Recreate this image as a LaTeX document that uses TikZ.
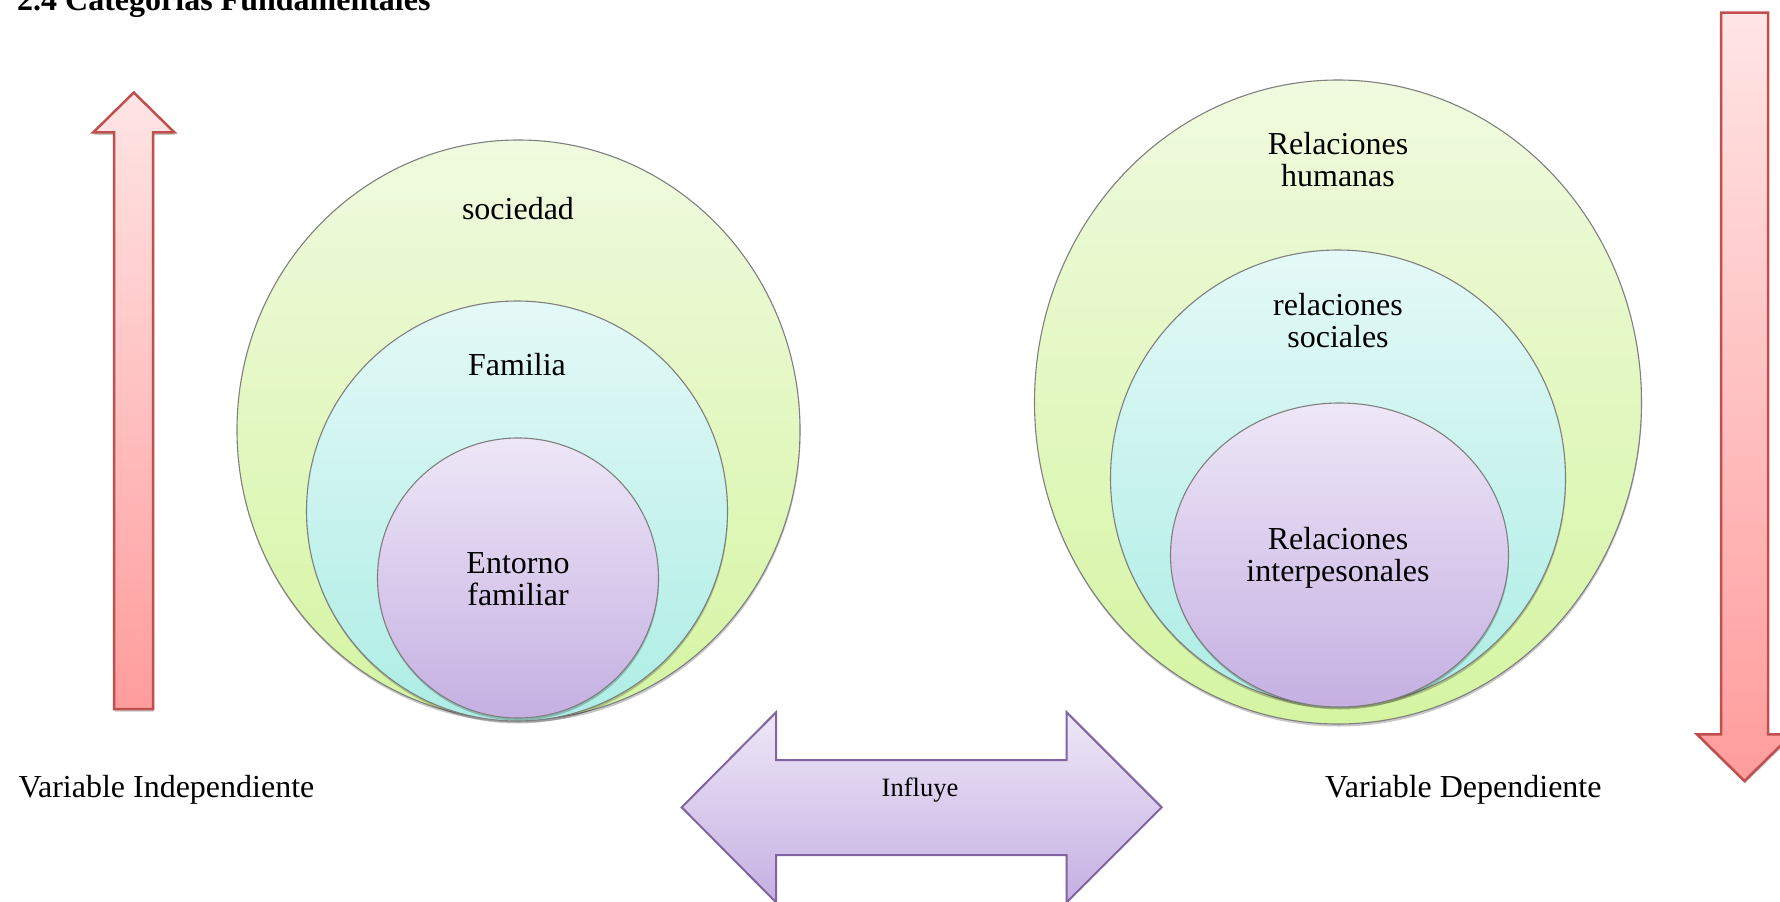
\documentclass[tikz,border=0pt]{standalone}
\usepackage{fontspec}
\setmainfont{Liberation Serif}
\usetikzlibrary{shapes.geometric,shadows}
\definecolor{greenTop}{HTML}{F0FADF}
\definecolor{greenBot}{HTML}{D5F5A2}
\definecolor{blueTop}{HTML}{E4F9F7}
\definecolor{blueBot}{HTML}{ADEDE5}
\definecolor{purTop}{HTML}{EEE7F7}
\definecolor{purBot}{HTML}{C5B0E2}
\definecolor{pinkTop}{HTML}{FFE5E5}
\definecolor{pinkBot}{HTML}{FF9C9C}
\definecolor{redLine}{HTML}{C0504D}
\definecolor{purLine}{HTML}{8064A2}
\definecolor{ringLine}{HTML}{7F7F7F}
\begin{document}
\begin{tikzpicture}[x=1pt,y=-1pt,
  softshadow/.style={drop shadow={shadow xshift=0.5pt, shadow yshift=-2.5pt, opacity=0.22, fill=black}},
  ring/.style={ellipse, draw=ringLine, line width=1.1pt, inner sep=0pt, softshadow},
  greenring/.style={ring, top color=greenTop, bottom color=greenBot},
  bluering/.style={ring, top color=blueTop, bottom color=blueBot},
  purring/.style={ring, top color=purTop, bottom color=purBot},
  pinkarrow/.style={draw=redLine, line width=2.5pt, line join=miter, top color=pinkTop, bottom color=pinkBot, softshadow},
  bothway/.style={draw=purLine, line width=2pt, line join=miter, top color=purTop, bottom color=purBot},
  lbl/.style={font=\fontsize{32}{32}\selectfont, align=center, inner sep=0pt, anchor=base},
]
\useasboundingbox (0,0) rectangle (1780,902);

% title
\node[font=\fontsize{32}{32}\selectfont\bfseries, inner sep=0pt, anchor=base west] (title) at (17,10) {2.4 Categorías Fundamentales};

% vertical arrows
\path[pinkarrow] (114,709) -- (114,132.3) -- (93.3,132.3) -- (133.8,92.5) -- (174.3,132.3) -- (153,132.3) -- (153,709) -- cycle;
\path[pinkarrow] (1721,12.7) -- (1768,12.7) -- (1768,734.3) -- (1792,734.3) -- (1744.5,781) -- (1697,734.3) -- (1721,734.3) -- cycle;

% double arrow
\path[bothway] (681.7,807.3) -- (776,712.3) -- (776,760) -- (1066.7,760) -- (1066.7,712.3) -- (1161.7,807.3) -- (1066.7,902.3) -- (1066.7,855) -- (776,855) -- (776,902.3) -- cycle;
\node[font=\fontsize{26.5}{30}\selectfont, inner sep=0pt, anchor=base] (influye) at (920,796) {Influye};

% left circles
\node[greenring, minimum width=563pt, minimum height=580pt] (soc) at (518.5,430) {};
\node[bluering, minimum width=421pt, minimum height=420pt] (fam) at (517,511) {};
\node[purring, minimum width=281pt, minimum height=280pt] (ent) at (518,578) {};
\node[lbl] (tsoc) at (518,219) {sociedad};
\node[lbl] (tfam) at (517,375) {Familia};
\node[lbl] (tent) at (518,605) {Entorno\\familiar};

% right circles
\node[greenring, minimum width=607pt, minimum height=644pt] (hum) at (1338,402) {};
\node[bluering, minimum width=455pt, minimum height=456pt] (socr) at (1338,478) {};
\node[purring, minimum width=338pt, minimum height=304pt] (inter) at (1339.5,555) {};
\node[lbl] (thum) at (1338,186) {Relaciones\\humanas};
\node[lbl] (tsocr) at (1338,347) {relaciones\\sociales};
\node[lbl] (tinter) at (1338,581) {Relaciones\\interpesonales};

% variable labels
\node[font=\fontsize{32}{32}\selectfont, inner sep=0pt, anchor=base west] (vi) at (18.3,797) {Variable Independiente};
\node[font=\fontsize{32}{32}\selectfont, inner sep=0pt, anchor=base west] (vd) at (1325,797) {Variable Dependiente};
\end{tikzpicture}
\end{document}
